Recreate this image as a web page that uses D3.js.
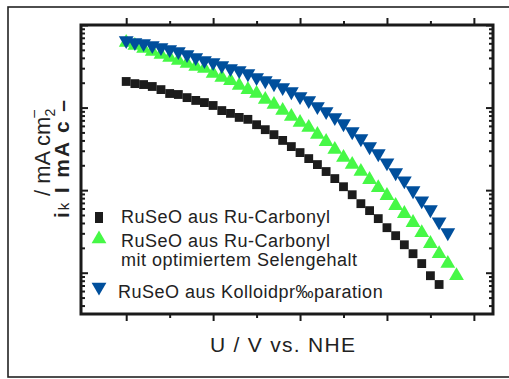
<!DOCTYPE html>
<html>
  <head>
    <meta charset="utf-8">
    <title>Kinetic current</title>
    <script src="https://d3js.org/d3.v7.min.js"></script>
    <style>
      body { margin: 0; background: #fff; }
      text { font-family: Arial, "Liberation Sans", sans-serif; fill: #222; }
    </style>
  </head>
  <body>
    <script>
    var w = 509;
    var h = 379;

    // potential U / V vs. NHE (one point every 10 mV)
    var potential = [0.40, 0.41, 0.42, 0.43, 0.44, 0.45, 0.46, 0.47, 0.48, 0.49,
                     0.50, 0.51, 0.52, 0.53, 0.54, 0.55, 0.56, 0.57, 0.58, 0.59,
                     0.60, 0.61, 0.62, 0.63, 0.64, 0.65, 0.66, 0.67, 0.68, 0.69,
                     0.70, 0.71, 0.72, 0.73, 0.74, 0.75, 0.76, 0.77, 0.78];

    // kinetic current density / mA cm-2
    var carbonyl = [2.07, 1.95, 1.90, 1.80, 1.65, 1.48, 1.44, 1.32, 1.22, 1.15,
                    1.06, 0.92, 0.85, 0.76, 0.72, 0.62, 0.54, 0.47, 0.40, 0.337,
                    0.285, 0.241, 0.204, 0.168, 0.138, 0.110, 0.088, 0.0686, 0.0565, 0.0452,
                    0.0351, 0.0281, 0.0218, 0.0170, 0.0129, 0.0092, 0.0072];

    var selen = [6.14, 5.64, 5.19, 4.77, 4.39, 4.04, 3.71, 3.41, 3.14, 2.97,
                 2.58, 2.31, 2.12, 1.85, 1.65, 1.48, 1.25, 1.09, 0.92, 0.778,
                 0.658, 0.573, 0.471, 0.387, 0.310, 0.248, 0.204, 0.168, 0.134, 0.107,
                 0.0857, 0.0649, 0.0519, 0.0404, 0.0305, 0.0225, 0.0170, 0.0129, 0.0092];

    var kolloid = [6.49, 6.14, 5.97, 5.65, 5.34, 5.05, 4.77, 4.39, 4.04, 3.72,
                   3.51, 3.23, 2.97, 2.81, 2.58, 2.31, 2.12, 1.95, 1.75, 1.56,
                   1.36, 1.22, 1.03, 0.895, 0.757, 0.640, 0.512, 0.421, 0.337, 0.277,
                   0.215, 0.163, 0.130, 0.0986, 0.0746, 0.0581, 0.0415, 0.0306];

    var seriesNames = ["RuSeO aus Ru-Carbonyl",
                       "RuSeO aus Ru-Carbonyl|mit optimiertem Selengehalt",
                       "RuSeO aus Kolloidpr\u2030paration"];

    var xMajor = [0.4, 0.5, 0.6, 0.7, 0.8];
    var xMinor = [0.45, 0.55, 0.65, 0.75];
    var yMajor = [0.01, 0.1, 1, 10];

    var pLeft = 81, pRight = 493, pTop = 25, pBottom = 314;

    var x = d3.scaleLinear().domain([0.348, 0.822]).range([pLeft, pRight]);
    var y = d3.scaleLog().domain([Math.pow(10, -2.5), 10]).range([pBottom, pTop]);

    var yMinor = [];
    [0.001].concat(yMajor).forEach(function(m){
      [2,3,4,5,6,7,8,9].forEach(function(k){
        var v = m * k;
        if (v > y.domain()[0] && v < y.domain()[1]) yMinor.push(v);
      });
    });

    var svg = d3.select("body").append("svg")
      .attr("width", w).attr("height", h);

    // outer frame (its right side runs past the picture)
    svg.append("rect")
      .attr("x", 8).attr("y", 7).attr("width", 510).attr("height", 370)
      .attr("fill", "none").attr("stroke", "#222").attr("stroke-width", 1.6);

    var plot = svg.append("g");

    // axes with inward ticks
    function addAxis(axis, tx, ty) {
      var g = plot.append("g").attr("transform", "translate(" + tx + "," + ty + ")").call(axis);
      g.selectAll("text").remove();
      g.select(".domain").remove();
      g.selectAll("line").attr("stroke", "#1a1a1a").attr("stroke-width", 2);
      return g;
    }
    addAxis(d3.axisTop(x).tickValues(xMajor).tickSize(-7), 0, pBottom);
    addAxis(d3.axisTop(x).tickValues(xMinor).tickSize(-4), 0, pBottom);
    addAxis(d3.axisBottom(x).tickValues(xMajor).tickSize(-7), 0, pTop);
    addAxis(d3.axisBottom(x).tickValues(xMinor).tickSize(-4), 0, pTop);
    addAxis(d3.axisLeft(y).tickValues(yMajor).tickSize(-7), pLeft, 0);
    addAxis(d3.axisLeft(y).tickValues(yMinor).tickSize(-4), pLeft, 0);
    addAxis(d3.axisRight(y).tickValues(yMajor).tickSize(-7), pRight, 0);
    addAxis(d3.axisRight(y).tickValues(yMinor).tickSize(-4), pRight, 0);

    plot.append("rect")
      .attr("x", pLeft).attr("y", pTop)
      .attr("width", pRight - pLeft).attr("height", pBottom - pTop)
      .attr("fill", "none").attr("stroke", "#1a1a1a").attr("stroke-width", 3);

    var squareSym = d3.symbol().type(d3.symbolSquare).size(78);
    var triSym = d3.symbol().type(d3.symbolTriangle).size(95);

    function pts(vals) {
      return vals.map(function(v, i){ return {u: potential[i], j: v}; });
    }

    plot.append("g").selectAll("path")
      .data(pts(carbonyl)).enter().append("path")
      .attr("d", squareSym)
      .attr("transform", function(d){ return "translate(" + x(d.u) + "," + y(d.j) + ")"; })
      .attr("fill", "#1c1c1c");

    plot.append("g").selectAll("path")
      .data(pts(selen)).enter().append("path")
      .attr("d", triSym)
      .attr("transform", function(d){ return "translate(" + x(d.u) + "," + y(d.j) + ")"; })
      .attr("fill", "#46f846");

    plot.append("g").selectAll("path")
      .data(pts(kolloid)).enter().append("path")
      .attr("d", triSym)
      .attr("transform", function(d){ return "translate(" + x(d.u) + "," + y(d.j) + ") rotate(180)"; })
      .attr("fill", "#004f9c");

    // legend
    var lg = svg.append("g");
    lg.append("rect").attr("x", 95).attr("y", 212).attr("width", 8).attr("height", 11).attr("fill", "#1c1c1c");
    lg.append("path").attr("d", triSym).attr("transform", "translate(99,239)").attr("fill", "#46f846");
    lg.append("path").attr("d", triSym).attr("transform", "translate(99,287) rotate(180)").attr("fill", "#004f9c");

    var legendY = [223, 247, 298];
    var legendX = [121, 121, 118];
    seriesNames.forEach(function(name, i){
      var t = lg.append("text").attr("x", legendX[i]).attr("y", legendY[i])
        .attr("font-size", "18px").attr("letter-spacing", "0.5px");
      name.split("|").forEach(function(line, k){
        t.append("tspan").attr("x", legendX[i]).attr("dy", k === 0 ? 0 : 19).text(line);
      });
    });

    // axis titles
    svg.append("text")
      .attr("x", 210).attr("y", 352)
      .attr("font-size", "21px")
      .attr("textLength", 145)
      .text("U / V  vs. NHE");

    var yl = svg.append("text")
      .attr("transform", "translate(50,196) rotate(-90)")
      .attr("font-size", "22px");
    yl.append("tspan").text("/ mA cm");
    yl.append("tspan").attr("font-size", "14px").attr("dy", 5).text("2");
    yl.append("tspan").attr("font-size", "14px").attr("dx", -9).attr("dy", -17).text("\u2013");

    var yl2 = svg.append("text")
      .attr("transform", "translate(69,218) rotate(-90)")
      .attr("font-size", "21px").attr("font-weight", "bold")
      .attr("textLength", 118);
    yl2.append("tspan").text("i");
    yl2.append("tspan").attr("font-size", "15px").attr("font-weight", "normal").text("k");
    yl2.append("tspan").text("  I mA c  \u2013");
    </script>
  </body>
</html>
